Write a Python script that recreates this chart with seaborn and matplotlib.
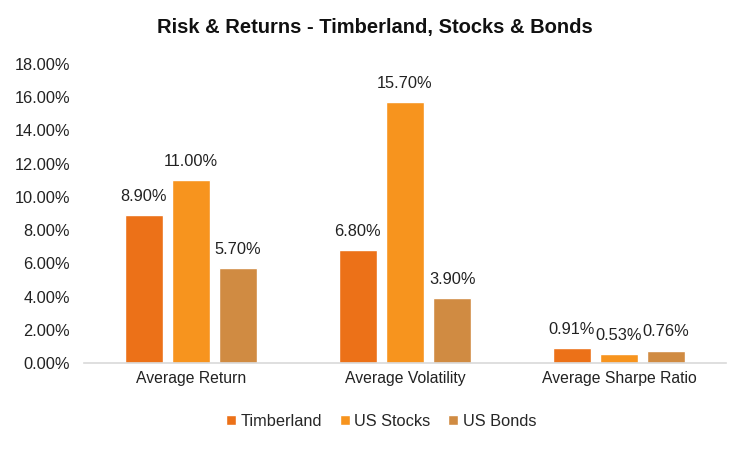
import pandas as pd
import matplotlib.pyplot as plt
import seaborn as sns
from matplotlib.ticker import PercentFormatter

# data (percent values)
categories = ['Average Return', 'Average Volatility', 'Average Sharpe Ratio']
series = ['Timberland', 'US Stocks', 'US Bonds']
timberland = [8.90, 6.80, 0.91]
us_stocks = [11.00, 15.70, 0.53]
us_bonds = [5.70, 3.90, 0.76]
colors = ['#EC7118', '#F7941E', '#D08B42']

df = pd.DataFrame({
    'metric': categories * 3,
    'series': [s for s in series for _ in categories],
    'value': timberland + us_stocks + us_bonds,
})

sns.set_style('white')
plt.rcParams['font.family'] = ['Liberation Sans', 'DejaVu Sans']

fig = plt.figure(figsize=(7.5, 4.5), dpi=100)
ax = fig.add_axes([0.112, 0.193, 0.856, 0.665])

sns.barplot(data=df, x='metric', y='value', hue='series', palette=colors,
            width=0.66, gap=0.21, saturation=1, ax=ax)

for c in ax.containers:
    ax.bar_label(c, fmt='%.2f%%', padding=8, fontsize=11.8, color='#222222')

ax.set_ylim(0, 18)
ax.set_yticks(range(0, 19, 2))
ax.yaxis.set_major_formatter(PercentFormatter(decimals=2))
ax.tick_params(axis='both', labelsize=11.3, colors='#222222', length=0)
ax.tick_params(axis='y', labelsize=11.8, pad=10)
ax.tick_params(axis='x', pad=6)
ax.set_xlabel('')
ax.set_ylabel('')
for s in ['top', 'right', 'left']:
    ax.spines[s].set_visible(False)
ax.spines['bottom'].set_color('#d9d9d9')
ax.spines['bottom'].set_linewidth(1.2)

fig.suptitle('Risk & Returns - Timberland, Stocks & Bonds', y=0.94, va='center',
             fontsize=14.5, fontweight='bold', color='#111111')

ax.legend(loc='center', bbox_to_anchor=(0.463, -0.194), ncol=3, frameon=False,
          fontsize=11.8, handlelength=0.6, handleheight=0.6, handletextpad=0.3,
          columnspacing=1.07)

fig.savefig('out.png', dpi=100)
